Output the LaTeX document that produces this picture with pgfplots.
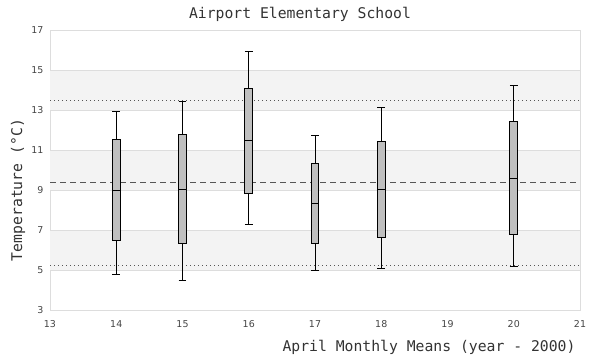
\documentclass[border=0pt]{standalone}
\usepackage{pgfplots}
\pgfplotsset{compat=1.18}
\usepgfplotslibrary{statistics}
\usepackage{fontspec}
\setmainfont{DejaVu Sans}
\newfontfamily\monof{DejaVu Sans Mono}
\definecolor{band}{HTML}{F3F3F3}
\definecolor{gridc}{HTML}{DDDDDD}
\definecolor{boxc}{HTML}{BFBFBF}
\definecolor{tickc}{HTML}{444444}
\definecolor{labc}{HTML}{333333}
\definecolor{refc}{HTML}{555555}
\begin{document}
\begin{tikzpicture}[x=1bp,y=1bp]
\useasboundingbox (0,0) rectangle (600,360);
\begin{axis}[
  at={(50bp,50bp)}, anchor=south west,
  scale only axis, width=530bp, height=280bp,
  xmin=13, xmax=21, ymin=3, ymax=17,
  xtick={13,...,21}, ytick={3,5,...,17},
  major tick length=0pt,
  ymajorgrids, major grid style={color=gridc, line width=0.8bp},
  axis line style={color=gridc, line width=0.8bp},
  tick label style={font=\fontsize{9.5}{10}\selectfont, color=tickc},
  /pgf/number format/assume math mode=true,
  xticklabel style={yshift=-7bp},
  yticklabel style={xshift=-3bp},
  boxplot/draw direction=y,
  clip=true,
]
% background bands
\addplot[draw=none, fill=band] coordinates {(13,13) (21,13) (21,15) (13,15)} --cycle;
\addplot[draw=none, fill=band] coordinates {(13,9) (21,9) (21,11) (13,11)} --cycle;
\addplot[draw=none, fill=band] coordinates {(13,5) (21,5) (21,7) (13,7)} --cycle;
% grid lines redrawn over bands
\addplot[gridc, line width=0.8bp] coordinates {(13,5) (21,5)};
\addplot[gridc, line width=0.8bp] coordinates {(13,7) (21,7)};
\addplot[gridc, line width=0.8bp] coordinates {(13,9) (21,9)};
\addplot[gridc, line width=0.8bp] coordinates {(13,11) (21,11)};
\addplot[gridc, line width=0.8bp] coordinates {(13,13) (21,13)};
\addplot[gridc, line width=0.8bp] coordinates {(13,15) (21,15)};
% reference lines
\addplot[refc, line width=0.8bp, dash pattern=on 1bp off 3bp] coordinates {(13,13.5) (21,13.5)};
\addplot[refc, line width=0.8bp, dash pattern=on 1bp off 3bp] coordinates {(13,5.25) (21,5.25)};
\addplot[refc, line width=0.8bp, dash pattern=on 6bp off 4bp] coordinates {(13,9.4) (21,9.4)};
% boxes
\pgfplotsset{mybox/.style={draw=black, fill=boxc, line width=1bp, solid}}
\addplot[mybox, boxplot prepared={draw position=14, lower whisker=4.8, lower quartile=6.5, median=9.0, upper quartile=11.5, upper whisker=12.9, box extend=0.12, whisker extend=0.12}] coordinates {};
\addplot[mybox, boxplot prepared={draw position=15, lower whisker=4.5, lower quartile=6.35, median=9.05, upper quartile=11.75, upper whisker=13.4, box extend=0.12, whisker extend=0.12}] coordinates {};
\addplot[mybox, boxplot prepared={draw position=16, lower whisker=7.3, lower quartile=8.85, median=11.45, upper quartile=14.05, upper whisker=15.9, box extend=0.12, whisker extend=0.12}] coordinates {};
\addplot[mybox, boxplot prepared={draw position=17, lower whisker=5.0, lower quartile=6.35, median=8.35, upper quartile=10.35, upper whisker=11.7, box extend=0.12, whisker extend=0.12}] coordinates {};
\addplot[mybox, boxplot prepared={draw position=18, lower whisker=5.1, lower quartile=6.65, median=9.05, upper quartile=11.4, upper whisker=13.1, box extend=0.12, whisker extend=0.12}] coordinates {};
\addplot[mybox, boxplot prepared={draw position=20, lower whisker=5.2, lower quartile=6.8, median=9.6, upper quartile=12.4, upper whisker=14.2, box extend=0.12, whisker extend=0.12}] coordinates {};
\end{axis}
\node[font=\monof\fontsize{14.8}{16}\selectfont, text=labc] at (300,346) {Airport Elementary School};
\node[font=\monof\fontsize{14.8}{16}\selectfont, text=labc, anchor=east] at (579,13) {April Monthly Means (year - 2000)};
\node[font=\monof\fontsize{14.8}{16}\selectfont, text=labc, rotate=90] at (18,170) {Temperature (°C)};
\end{tikzpicture}
\end{document}
